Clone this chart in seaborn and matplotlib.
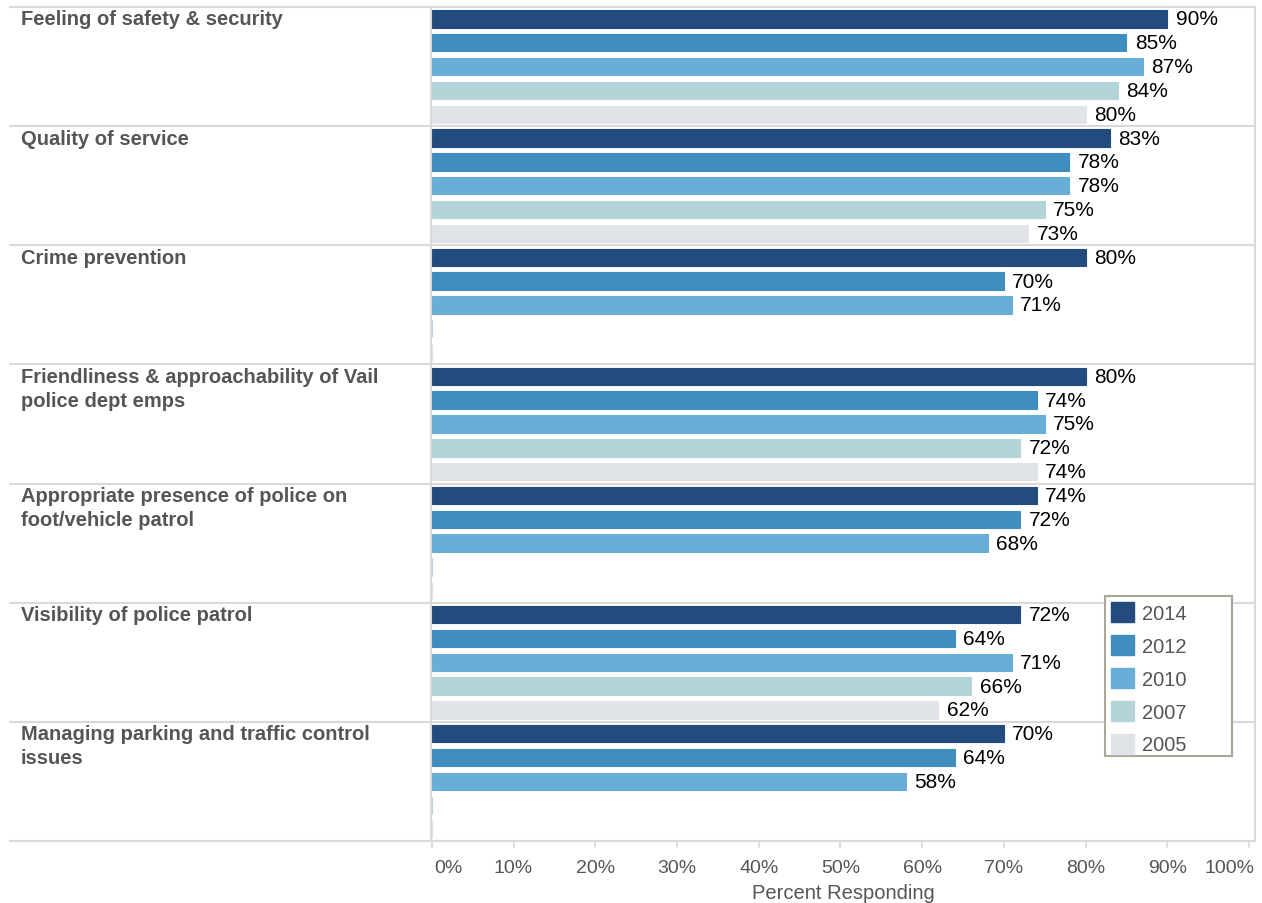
import numpy as np
import pandas as pd
import matplotlib
matplotlib.use("Agg")
import matplotlib.pyplot as plt
import matplotlib.transforms as mtransforms
import seaborn as sns
from matplotlib.patches import Patch, Rectangle

# ---- data -------------------------------------------------------------
categories = [
    "Feeling of safety & security",
    "Quality of service",
    "Crime prevention",
    "Friendliness & approachability of Vail\npolice dept emps",
    "Appropriate presence of police on\nfoot/vehicle patrol",
    "Visibility of police patrol",
    "Managing parking and traffic control\nissues",
]
years = ["2014", "2012", "2010", "2007", "2005"]
pct_2014 = [90, 83, 80, 80, 74, 72, 70]
pct_2012 = [85, 78, 70, 74, 72, 64, 64]
pct_2010 = [87, 78, 71, 75, 68, 71, 58]
pct_2007 = [84, 75, None, 72, None, 66, None]
pct_2005 = [80, 73, None, 74, None, 62, None]
palette = ["#234B7D", "#3F8EBF", "#69AED6", "#B4D4DA", "#E0E3E8"]

# ---- styling ------------------------------------------------------------
sns.set_theme(style="white")
plt.rcParams["font.family"] = ["Liberation Sans", "DejaVu Sans"]
GRID = "#d9d9d9"
TEXT = "#555555"

rows = []
for yr, vals in zip(years, [pct_2014, pct_2012, pct_2010, pct_2007, pct_2005]):
    for cat, v in zip(categories, vals):
        rows.append({"category": cat, "year": yr,
                     "value": np.nan if v is None else float(v)})
df = pd.DataFrame(rows)
df["plot_value"] = df["value"].fillna(0.0)

W, H = 1262, 904
fig = plt.figure(figsize=(W / 100, H / 100), dpi=100)
ax_l, ax_r, ax_t, ax_b = 431, 1255, 8, 842
ax = fig.add_axes([ax_l / W, 1 - ax_b / H, (ax_r - ax_l) / W, (ax_b - ax_t) / H])

sns.barplot(data=df, y="category", x="plot_value", hue="year",
            order=categories, hue_order=years, palette=palette,
            orient="h", width=1.0, gap=0.27, errorbar=None,
            saturation=1, legend=False, ax=ax)

# thin edges in the bar's own colour so empty years still leave a sliver
for cont in ax.containers:
    for p in cont:
        p.set_edgecolor(p.get_facecolor())
        p.set_linewidth(0.8)

# value labels
for cont, yr in zip(ax.containers, years):
    vals = df[df["year"] == yr].set_index("category").loc[categories, "value"]
    labels = ["" if np.isnan(v) else f"{v:.0f}%" for v in vals]
    ax.bar_label(cont, labels=labels, padding=6, fontsize=15, color="black")

ax.set_xlim(-0.1, 100.73)
ax.set_ylim(len(categories) - 0.5, -0.5)

# axes frame: light left/right rules, row separators spanning label column
for side in ["top", "bottom"]:
    ax.spines[side].set_visible(False)
for side in ["left", "right"]:
    ax.spines[side].set_visible(True)
    ax.spines[side].set_color(GRID)
    ax.spines[side].set_linewidth(1.5)

x_start = (10 - ax_l) / (ax_r - ax_l)
for k in range(len(categories) + 1):
    ax.axhline(k - 0.5, xmin=x_start, xmax=1.0, color=GRID, lw=1.5,
               clip_on=False, zorder=0.5)

# category labels in the left column
x_lab = (21 - ax_l) / (ax_r - ax_l)
for i, cat in enumerate(categories):
    ax.text(x_lab, i - 0.5 + 0.02, cat, transform=ax.get_yaxis_transform(),
            ha="left", va="top", fontsize=14.5, fontweight="bold", color=TEXT,
            linespacing=1.33)

ax.set_yticks([])
ax.set_ylabel("")
ticks = list(range(0, 101, 10))
ax.set_xticks(ticks)
ax.set_xticklabels([f"{t}%" for t in ticks])
ax.tick_params(axis="x", bottom=True, length=5, width=1.2, color=GRID,
               pad=8, labelsize=14, labelcolor=TEXT)
tl = ax.get_xticklabels()
tl[0].set_ha("left")
tl[-1].set_ha("right")
# nudge end labels so they sit inside the frame edges
tl[0].set_transform(tl[0].get_transform() +
                    mtransforms.ScaledTranslation(2 / 100, 0, fig.dpi_scale_trans))
tl[-1].set_transform(tl[-1].get_transform() +
                     mtransforms.ScaledTranslation(5 / 100, 0, fig.dpi_scale_trans))
ax.set_xlabel("Percent Responding", fontsize=14.5, color=TEXT, labelpad=5)

# legend box
fig.patches.append(Rectangle((1105 / W, 1 - 757 / H), 127 / W, 160 / H,
                             transform=fig.transFigure, facecolor="white",
                             edgecolor="#a9a797", linewidth=1.5, zorder=4))
handles = [Patch(facecolor=c, edgecolor=c) for c in palette]
leg = fig.legend(handles, years, loc="upper left",
                 bbox_to_anchor=(1107 / W, 1 - 599 / H), frameon=False,
                 fontsize=14.5, labelcolor=TEXT, handlelength=1.15,
                 handleheight=1.15, labelspacing=0.6, borderpad=0.2,
                 handletextpad=0.4, borderaxespad=0)
leg.set_zorder(5)

fig.savefig("out.png", dpi=100, facecolor="white")
